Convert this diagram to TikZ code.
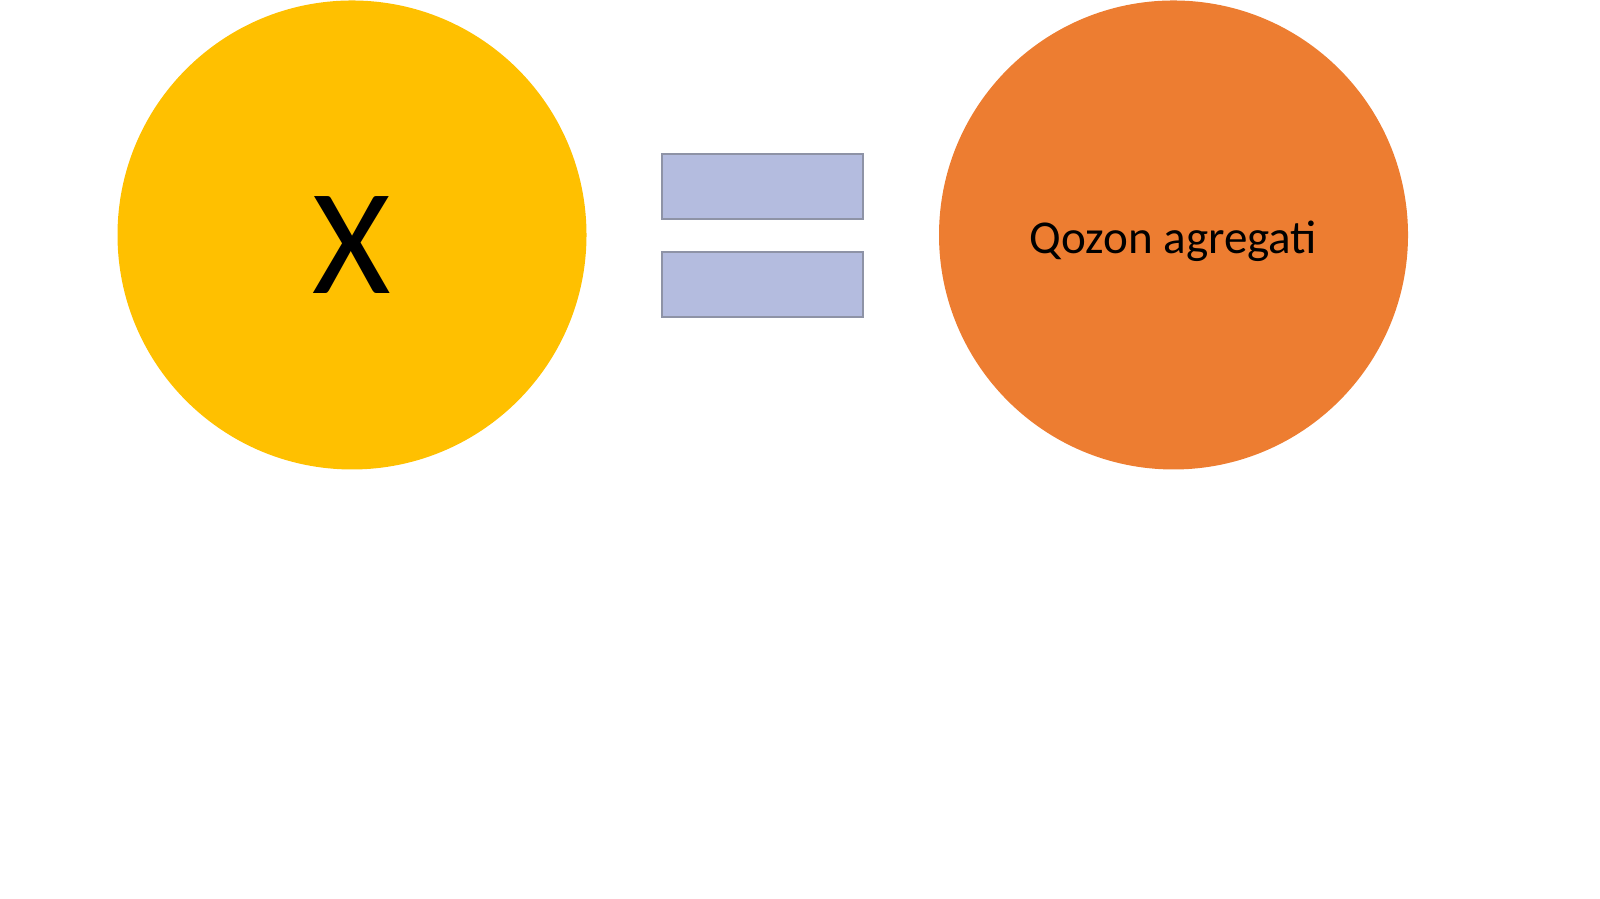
\documentclass[tikz,border=0pt]{standalone}
\usepackage{fontspec}
\setmainfont{Carlito}
\usepackage{tikz}
\usetikzlibrary{positioning}
\definecolor{sunyellow}{HTML}{FFC000}
\definecolor{boilorange}{HTML}{ED7D31}
\definecolor{barblue}{HTML}{B4BCDF}
\definecolor{bargray}{HTML}{8E93A6}

\begin{document}
\begin{tikzpicture}[node distance=1cm]
        \useasboundingbox (0,0) rectangle (16,8.99);
        % Nodes
        \node[circle, fill=sunyellow, minimum size=4.69cm, inner sep=0pt] (X) at (3.52,6.64) {};
        \node[font=\fontsize{43}{48}\selectfont] (Xlabel) at (3.52,6.54) {X};

        \node[circle, fill=boilorange, minimum size=4.69cm, inner sep=0pt] (Q) at (11.735,6.64) {};
        \node[font=\fontsize{13.4}{16}\selectfont] (Qlabel) at (11.735,6.58) {Qozon agregati};

        \node[rectangle, draw=bargray, fill=barblue, line width=0.6pt, minimum width=2.01cm, minimum height=0.65cm, inner sep=0pt] (E1) at (7.625,7.125) {};
        \node[rectangle, draw=bargray, fill=barblue, line width=0.6pt, minimum width=2.01cm, minimum height=0.65cm, inner sep=0pt, below=0.31cm of E1] (E2) {};
    \end{tikzpicture}
\end{document}
